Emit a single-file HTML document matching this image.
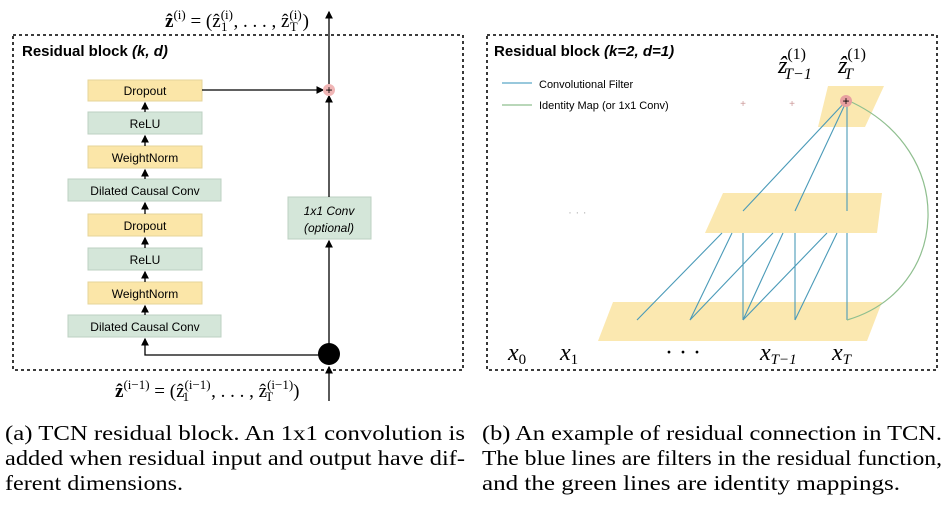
<!DOCTYPE html><html><head><meta charset="utf-8"><style>body{margin:0;background:#fff}svg{display:block}</style></head><body>
<svg width="951" height="507" viewBox="0 0 951 507" xmlns="http://www.w3.org/2000/svg" font-family="Liberation Sans, sans-serif">
<defs><marker id="a" markerWidth="6" markerHeight="6" refX="5" refY="3" orient="auto"><path d="M0,0L6,3L0,6z" fill="#000"/></marker></defs>
<rect x="13" y="35" width="450" height="335" fill="none" stroke="#222" stroke-width="1.8" stroke-dasharray="3,3"/>
<text x="22" y="56" font-size="15" font-weight="bold">Residual block <tspan font-style="italic">(k, d)</tspan></text>
<g font-size="12" text-anchor="middle">
<rect x="88" y="80" width="114" height="21" fill="#fbe6a8" stroke="#e6d49a"/><text x="145" y="95">Dropout</text>
<rect x="88" y="112" width="114" height="22" fill="#d4e6d9" stroke="#bcd0c2"/><text x="145" y="128">ReLU</text>
<rect x="88" y="146" width="114" height="22" fill="#fbe6a8" stroke="#e6d49a"/><text x="145" y="162">WeightNorm</text>
<rect x="68" y="179" width="153" height="22" fill="#d4e6d9" stroke="#bcd0c2"/><text x="145" y="195">Dilated Causal Conv</text>
<rect x="88" y="214" width="114" height="22" fill="#fbe6a8" stroke="#e6d49a"/><text x="145" y="230">Dropout</text>
<rect x="88" y="248" width="114" height="22" fill="#d4e6d9" stroke="#bcd0c2"/><text x="145" y="264">ReLU</text>
<rect x="88" y="282" width="114" height="22" fill="#fbe6a8" stroke="#e6d49a"/><text x="145" y="298">WeightNorm</text>
<rect x="68" y="315" width="153" height="22" fill="#d4e6d9" stroke="#bcd0c2"/><text x="145" y="331">Dilated Causal Conv</text>
<rect x="288" y="197" width="83" height="42" fill="#d4e6d9" stroke="#bcd0c2"/><text x="329" y="215" font-style="italic">1x1 Conv</text><text x="329" y="232" font-style="italic">(optional)</text>
</g>
<g stroke="#000" stroke-width="1.3" fill="none">
<line x1="145" y1="112" x2="145" y2="103" marker-end="url(#a)"/><line x1="145" y1="146" x2="145" y2="136" marker-end="url(#a)"/>
<line x1="145" y1="179" x2="145" y2="170" marker-end="url(#a)"/><line x1="145" y1="214" x2="145" y2="203" marker-end="url(#a)"/>
<line x1="145" y1="248" x2="145" y2="238" marker-end="url(#a)"/><line x1="145" y1="282" x2="145" y2="272" marker-end="url(#a)"/>
<line x1="145" y1="315" x2="145" y2="306" marker-end="url(#a)"/>
<polyline points="329,355 145,355 145,339" marker-end="url(#a)"/>
<line x1="202" y1="90" x2="323" y2="90" marker-end="url(#a)"/>
<line x1="329" y1="355" x2="329" y2="241" marker-end="url(#a)"/>
<line x1="329" y1="197" x2="329" y2="96" marker-end="url(#a)"/>
<line x1="329" y1="90" x2="329" y2="12" marker-end="url(#a)"/>
<line x1="329" y1="401" x2="329" y2="367" marker-end="url(#a)"/>
</g>
<circle cx="329" cy="90" r="6" fill="#f0b5b5"/><text x="329" y="94" font-size="12" text-anchor="middle">+</text>
<circle cx="329" cy="354" r="11" fill="#000"/>
<text x="165" y="27" font-family="Liberation Serif, serif" font-size="19"><tspan font-weight="bold">ẑ</tspan><tspan font-size="13" dy="-8">(i)</tspan><tspan dy="8"> = (ẑ</tspan><tspan font-size="13" dy="-8">(i)</tspan><tspan font-size="13" dx="-12" dy="12">1</tspan><tspan dx="6" dy="-4">, . . . , ẑ</tspan><tspan font-size="13" dy="-8">(i)</tspan><tspan font-size="13" dx="-12" dy="12">T</tspan><tspan dx="5" dy="-4">)</tspan></text>
<text x="115" y="397" font-family="Liberation Serif, serif" font-size="19"><tspan font-weight="bold">ẑ</tspan><tspan font-size="13" dy="-8">(i−1)</tspan><tspan dy="8"> = (ẑ</tspan><tspan font-size="13" dy="-8">(i−1)</tspan><tspan font-size="13" dx="-28" dy="12">1</tspan><tspan dx="22" dy="-4">, . . . , ẑ</tspan><tspan font-size="13" dy="-8">(i−1)</tspan><tspan font-size="13" dx="-28" dy="12">T</tspan><tspan dx="20" dy="-4">)</tspan></text>

<rect x="487" y="35" width="450" height="335" fill="none" stroke="#222" stroke-width="1.8" stroke-dasharray="3,3"/>
<text x="494" y="56" font-size="15" font-weight="bold">Residual block <tspan font-style="italic">(k=2, d=1)</tspan></text>
<line x1="502" y1="83" x2="532" y2="83" stroke="#5aa8c8" stroke-width="1.2"/><text x="539" y="88" font-size="11">Convolutional Filter</text>
<line x1="502" y1="105" x2="532" y2="105" stroke="#8fbf8f" stroke-width="1.2"/><text x="539" y="109" font-size="11">Identity Map (or 1x1 Conv)</text>
<polygon points="613,302 882,302 867,341 598,341" fill="#fbe8b0"/>
<polygon points="723,193 882,193 877,233 705,233" fill="#fbe8b0"/>
<polygon points="828,86 884,86 865,127 818,127" fill="#fbe8b0"/>
<g stroke="#4a9ab8" stroke-width="1.1">
<line x1="847" y1="100" x2="743" y2="211"/><line x1="847" y1="100" x2="795" y2="211"/><line x1="847" y1="100" x2="847" y2="211"/>
<line x1="637" y1="320" x2="722" y2="233"/><line x1="690" y1="320" x2="732" y2="233"/><line x1="690" y1="320" x2="773" y2="233"/>
<line x1="743" y1="320" x2="743" y2="233"/><line x1="743" y1="320" x2="783" y2="233"/><line x1="795" y1="320" x2="795" y2="233"/>
<line x1="743" y1="320" x2="827" y2="233"/><line x1="795" y1="320" x2="837" y2="233"/><line x1="847" y1="320" x2="847" y2="233"/>
</g>
<path d="M847,100 C960,150 950,290 847,320" fill="none" stroke="#8fbf8f" stroke-width="1.2"/>
<circle cx="846" cy="101" r="6" fill="#e8a0a0"/><text x="846" y="105" font-size="12" text-anchor="middle">+</text>
<text x="743" y="107" font-size="10" fill="#c99" text-anchor="middle">+</text><text x="792" y="107" font-size="10" fill="#c99" text-anchor="middle">+</text>
<text x="568" y="216" font-size="12" fill="#bbb">· · ·</text>
<g font-family="Liberation Serif, serif" font-size="24" font-style="italic">
<text x="508" y="360">x<tspan font-size="15" font-style="normal" dy="4">0</tspan></text>
<text x="560" y="360">x<tspan font-size="15" font-style="normal" dy="4">1</tspan></text>
<text x="665" y="360" font-style="normal">· · ·</text>
<text x="760" y="360">x<tspan font-size="15" dy="4">T−1</tspan></text>
<text x="832" y="360">x<tspan font-size="15" dy="4">T</tspan></text>
<text x="778" y="73">ẑ<tspan font-size="16" font-style="normal" dy="-14">(1)</tspan><tspan font-size="16" dx="-22" dy="20">T−1</tspan></text>
<text x="838" y="73">ẑ<tspan font-size="16" font-style="normal" dy="-14">(1)</tspan><tspan font-size="16" dx="-22" dy="20">T</tspan></text>
</g>
<g font-family="Liberation Serif, serif" font-size="21">
<text x="5" y="440" textLength="460" lengthAdjust="spacingAndGlyphs">(a) TCN residual block.  An 1x1 convolution is</text>
<text x="5" y="465" textLength="460" lengthAdjust="spacingAndGlyphs">added when residual input and output have dif-</text>
<text x="5" y="490" textLength="178" lengthAdjust="spacingAndGlyphs">ferent dimensions.</text>
<text x="482" y="440" textLength="460" lengthAdjust="spacingAndGlyphs">(b) An example of residual connection in TCN.</text>
<text x="482" y="465" textLength="460" lengthAdjust="spacingAndGlyphs">The blue lines are filters in the residual function,</text>
<text x="482" y="490" textLength="418" lengthAdjust="spacingAndGlyphs">and the green lines are identity mappings.</text>
</g>
</svg></body></html>
